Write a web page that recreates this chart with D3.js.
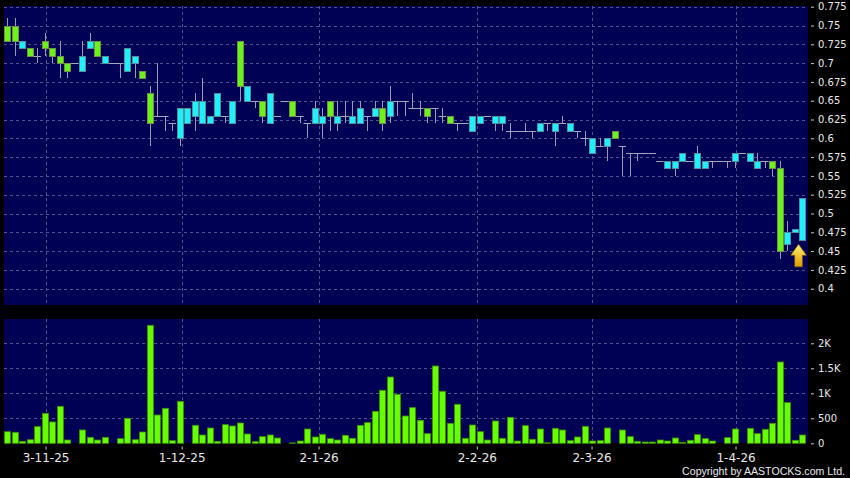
<!DOCTYPE html>
<html><head><meta charset="utf-8">
<script src="https://cdn.jsdelivr.net/npm/d3@7/dist/d3.min.js"></script>
<style>html,body{margin:0;padding:0;background:#000;} svg{display:block;}</style>
</head><body>
<svg id="chart" width="850" height="478"></svg>
<script>
// ---- DATA ----
const openP  = [.75,.75,.72,.72,.71,.73,.72,.71,.70,.70,.69,.72,.73,.70,.70,.70,.69,.70,.69,.66,
                .63,.63,.62,.60,.62,.63,.62,.62,.63,.63,.62,.73,.65,.65,.65,.62,.63,.65,.65,.63,
                .62,.62,.62,.65,.62,.63,.62,.62,.63,.63,.64,.63,.65,.65,.64,.64,.64,.64,.63,.63,
                .62,.62,.61,.62,.63,.62,.62,.61,.61,.61,.61,.61,.62,.61,.62,.61,.61,.60,.58,.59,
                .59,.61,.59,.58,.58,.58,.58,.57,.56,.56,.57,.57,.56,.56,.57,.57,.57,.57,.58,.57,
                .56,.57,.57,.56,.46,.475,.465];
const highP  = [.76,.76,.73,.72,.72,.74,.72,.73,.70,.70,.73,.74,.73,.71,.70,.70,.72,.71,.69,.67,
                .70,.63,.62,.64,.64,.66,.68,.63,.66,.63,.65,.73,.67,.65,.65,.66,.63,.65,.65,.63,
                .62,.65,.64,.65,.65,.65,.65,.65,.63,.65,.65,.67,.65,.65,.66,.65,.64,.64,.64,.63,
                .62,.62,.63,.63,.63,.63,.63,.62,.61,.62,.61,.62,.62,.62,.63,.62,.61,.61,.60,.60,
                .60,.61,.59,.58,.58,.58,.58,.57,.57,.57,.58,.57,.59,.57,.57,.57,.57,.58,.58,.58,
                .58,.57,.57,.57,.49,.48,.52];
const lowP   = [.73,.71,.72,.71,.70,.71,.70,.68,.68,.70,.69,.72,.71,.70,.70,.68,.69,.68,.68,.59,
                .63,.61,.61,.59,.62,.61,.62,.62,.63,.62,.62,.65,.65,.64,.62,.62,.63,.65,.63,.62,
                .60,.62,.60,.61,.61,.62,.62,.62,.61,.63,.61,.62,.63,.63,.64,.63,.62,.62,.62,.62,
                .61,.62,.61,.62,.63,.61,.61,.60,.61,.61,.60,.61,.61,.59,.62,.61,.60,.59,.58,.59,
                .57,.60,.55,.55,.57,.58,.58,.57,.56,.55,.57,.57,.56,.56,.56,.57,.56,.56,.58,.57,
                .56,.56,.55,.44,.45,.475,.465];
const closeP = [.73,.73,.73,.71,.71,.72,.71,.70,.69,.70,.71,.73,.71,.71,.70,.70,.72,.71,.68,.62,
                .63,.63,.62,.64,.64,.65,.65,.63,.66,.63,.65,.67,.67,.65,.63,.66,.63,.65,.63,.63,
                .62,.64,.63,.63,.63,.63,.63,.64,.63,.64,.62,.65,.65,.65,.64,.64,.63,.64,.63,.62,
                .62,.62,.63,.63,.63,.63,.63,.61,.61,.61,.61,.62,.62,.62,.62,.62,.61,.60,.60,.59,
                .60,.60,.59,.58,.58,.58,.58,.57,.57,.57,.58,.57,.58,.57,.57,.57,.57,.58,.58,.58,
                .57,.57,.56,.45,.475,.48,.52];
const volume = [232,220,40,72,333,600,427,740,66,0,267,120,66,120,0,93,500,72,226,2360,
                566,700,53,840,0,360,166,306,40,373,346,406,186,33,133,166,106,0,8,46,
                286,126,180,93,66,160,100,360,413,640,1060,1326,980,546,713,460,193,1546,1040,400,
                780,100,366,233,66,446,100,520,46,353,80,286,10,300,266,53,126,340,46,53,
                306,0,266,133,40,26,26,66,46,106,20,60,173,93,46,0,113,286,0,300,
                193,280,400,1626,813,60,166];
const dateTickAt    = [5.1, 23.25, 41.5, 62.6, 77.9, 97.1];
const dateTickLabel = ["3-11-25","1-12-25","2-1-26","2-2-26","2-3-26","1-4-26"];
const priceTicks = [0.4,0.425,0.45,0.475,0.5,0.525,0.55,0.575,0.6,0.625,0.65,0.675,0.7,0.725,0.75,0.775];
const volTicks   = [0,500,1000,1500,2000];
const volTickLabel = ["0","500","1K","1.5K","2K"];
const arrowMark = {at: 105.5, price: 0.459};

// ---- DRAW ----
const W = 850, H = 478, n = closeP.length;
const svg = d3.select('#chart');
svg.append('rect').attr('width', W).attr('height', H).attr('fill', '#000');

const plotL = 4, plotR = 808;
const priceTop = 6, priceBot = 305, volTop = 319, volBot = 443;

const x  = d3.scaleLinear().domain([0, n - 1]).range([7.3, 802.3]);
const y  = d3.scaleLinear().domain([0.4, 0.775]).range([288.7, 6.7]);
const yv = d3.scaleLinear().domain([0, 2000]).range([443.3, 343.3]);

const navy = '#000055', gridC = '#52528f';
svg.append('rect').attr('x', plotL).attr('y', priceTop).attr('width', plotR - plotL).attr('height', priceBot - priceTop).attr('fill', navy);
svg.append('rect').attr('x', plotL).attr('y', volTop).attr('width', plotR - plotL).attr('height', volBot - volTop).attr('fill', navy);

const crisp = v => Math.round(v) + 0.5;
const grid = svg.append('g').attr('stroke', gridC).attr('stroke-width', 1).attr('stroke-dasharray', '3,3').attr('fill', 'none');
grid.selectAll('.hp').data(priceTicks).join('line')
  .attr('x1', plotL).attr('x2', plotR).attr('y1', d => crisp(y(d))).attr('y2', d => crisp(y(d)));
grid.selectAll('.hv').data(volTicks.slice(1)).join('line').attr('class','hv')
  .attr('x1', plotL).attr('x2', plotR).attr('y1', d => crisp(yv(d))).attr('y2', d => crisp(yv(d)));
grid.selectAll('.vp').data(dateTickAt).join('line').attr('class','vp')
  .attr('x1', d => crisp(x(d))).attr('x2', d => crisp(x(d))).attr('y1', priceTop).attr('y2', priceBot);
grid.selectAll('.vv').data(dateTickAt).join('line').attr('class','vv')
  .attr('x1', d => crisp(x(d))).attr('x2', d => crisp(x(d))).attr('y1', volTop).attr('y2', volBot);

const idx = d3.range(n);
const upC = '#1ef0ff', dnC = '#6cf41a';

// wicks
svg.append('g').selectAll('line').data(idx.filter(i => highP[i] !== lowP[i])).join('line')
  .attr('x1', i => crisp(x(i))).attr('x2', i => crisp(x(i)))
  .attr('y1', i => Math.round(y(highP[i]))).attr('y2', i => Math.round(y(lowP[i])))
  .attr('stroke', '#9a9ab0').attr('stroke-width', 1);
// doji
svg.append('g').selectAll('line').data(idx.filter(i => openP[i] === closeP[i])).join('line')
  .attr('x1', i => x(i) - 3.75).attr('x2', i => x(i) + 3.75)
  .attr('y1', i => crisp(y(openP[i]))).attr('y2', i => crisp(y(openP[i])))
  .attr('stroke', '#a6a6bc').attr('stroke-width', 1);
// bodies
svg.append('g').selectAll('rect').data(idx.filter(i => openP[i] !== closeP[i])).join('rect')
  .attr('x', i => Math.round(x(i)) - 3 + 0.5)
  .attr('y', i => Math.round(y(Math.max(openP[i], closeP[i]))) + 0.5)
  .attr('width', 6)
  .attr('height', i => Math.max(1, Math.round(y(Math.min(openP[i], closeP[i]))) - Math.round(y(Math.max(openP[i], closeP[i])))))
  .attr('fill', i => closeP[i] > openP[i] ? upC : dnC)
  .attr('stroke', i => closeP[i] > openP[i] ? '#4f8f9c' : '#6f8f4a')
  .attr('stroke-width', 1);

// volume bars
svg.append('g').selectAll('rect').data(idx.filter(i => volume[i] > 0)).join('rect')
  .attr('x', i => Math.round(x(i)) - 3 + 0.5)
  .attr('y', i => yv(volume[i]))
  .attr('width', 6)
  .attr('height', i => yv(0) - yv(volume[i]))
  .attr('fill', '#66ff00').attr('stroke', '#3c8f00').attr('stroke-width', 0.8);

// arrow annotation
const defs = svg.append('defs');
const lg = defs.append('linearGradient').attr('id', 'ag').attr('x1', 0).attr('y1', 0).attr('x2', 0).attr('y2', 1);
lg.append('stop').attr('offset', '0%').attr('stop-color', '#fff36a');
lg.append('stop').attr('offset', '100%').attr('stop-color', '#e39a00');
svg.append('path')
  .attr('transform', `translate(${x(arrowMark.at)},${y(arrowMark.price)})`)
  .attr('d', 'M0,0 L7.8,11 L3.8,11 L3.8,22.5 L-3.8,22.5 L-3.8,11 L-7.8,11 Z')
  .attr('fill', 'url(#ag)').attr('stroke', '#8a6a10').attr('stroke-width', 0.6);

// axes
const txtC = '#e8e8e8';
const ay = svg.append('g').attr('transform', 'translate(811,0)')
  .call(d3.axisRight(y).tickValues(priceTicks).tickSize(3).tickPadding(4).tickFormat(d => String(+d.toFixed(3))));
const av = svg.append('g').attr('transform', 'translate(811,0)')
  .call(d3.axisRight(yv).tickValues(volTicks).tickSize(3).tickPadding(4).tickFormat((d, i) => volTickLabel[i]));
[ay, av].forEach(g => {
  g.select('.domain').remove();
  g.selectAll('line').attr('stroke', '#c8c8c8');
  g.selectAll('text').attr('fill', txtC).style('font-family', 'DejaVu Sans').style('font-size', '10px');
});
const ax = svg.append('g').attr('transform', 'translate(0,446.5)')
  .call(d3.axisBottom(x).tickValues(dateTickAt).tickSize(3).tickPadding(4).tickFormat((d, i) => dateTickLabel[i]));
ax.select('.domain').remove();
ax.selectAll('line').attr('stroke', '#c8c8c8');
ax.selectAll('text').attr('fill', txtC).style('font-family', 'DejaVu Sans').style('font-size', '12px');

svg.append('text').attr('x', 845).attr('y', 475).attr('text-anchor', 'end')
  .attr('fill', txtC).style('font-family', 'Liberation Sans').style('font-size', '10.6px')
  .text('Copyright by AASTOCKS.com Ltd.');
</script>
</body></html>
